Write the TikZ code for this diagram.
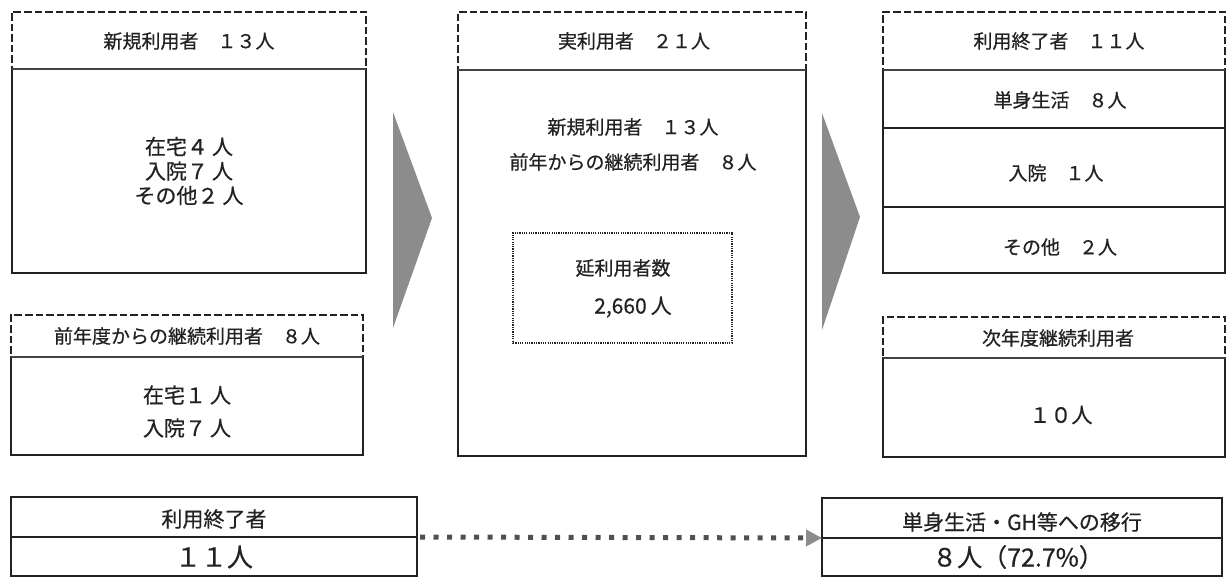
\documentclass[tikz,border=0pt]{standalone}
\usepackage{fontspec}
\setmainfont{Noto Sans CJK JP}[FakeBold=0.6]
\usetikzlibrary{arrows.meta}
\definecolor{ink}{HTML}{222222}
\definecolor{chev}{HTML}{8C8C8C}
\definecolor{dotc}{HTML}{505050}
\begin{document}
\begin{tikzpicture}[x=1pt,y=-1pt,
  box/.style={draw=ink, line width=1.2pt, inner sep=0pt, outer sep=0pt, anchor=north west},
  hdr/.style={box, line width=1.6pt, dash pattern=on 7.5pt off 3pt},
  sep/.style={draw=ink!85, line width=2.4pt},
  dotbox/.style={box, line width=1.5pt, dash pattern=on 1.2pt off 1.1pt},
  txt/.style={text=ink, font=\fontsize{19}{23}\selectfont, inner sep=0pt, align=center},
  bodytxt/.style={txt, font=\fontsize{21}{24.5}\selectfont},
  bigtxt/.style={txt, font=\fontsize{26}{30}\selectfont},
  midtxt/.style={txt, font=\fontsize{21}{25}\selectfont},
  chevron/.style={fill=chev, draw=none},
  dotarrow/.style={draw=dotc, line width=5pt, dash pattern=on 5pt off 8.5pt, shorten <=3pt,
    -{Triangle[length=16pt,width=16pt,color=chev]}}
]
\useasboundingbox (0,0) rectangle (1227,578);
\fill[white] (0,0) rectangle (1227,578);

% ---------- left column ----------
\node[box, minimum width=354pt, minimum height=204pt] (nb) at (12,69) {};
\node[hdr, minimum width=354pt, minimum height=57pt] (nh) at (12,12) {};
\draw[sep] (nh.south west) -- (nh.south east);
\node[txt] (nht) at (189,41) {新規利用者　１３人};
\node[bodytxt] (nbt) at (189,171)
  {在宅４\hspace{4pt}人\\入院７\hspace{4pt}人\\その他２\hspace{4pt}人};

\node[box, minimum width=352pt, minimum height=98pt] (cb) at (11,357) {};
\node[hdr, minimum width=352pt, minimum height=42pt] (ch) at (11,315) {};
\draw[sep] (ch.south west) -- (ch.south east);
\node[txt] (cht) at (187,336) {前年度からの継続利用者　８人};
\node[bodytxt] (cbt1) at (187,395) {在宅１\hspace{4pt}人};
\node[bodytxt] (cbt2) at (187,428) {入院７\hspace{4pt}人};

\node[box, minimum width=406pt, minimum height=40pt] (blh) at (11,497) {};
\node[box, minimum width=406pt, minimum height=39pt] (blv) at (11,537) {};
\node[midtxt] (blht) at (214,519) {利用終了者};
\node[bigtxt] (blvt) at (214,557) {１１人};

% ---------- middle column ----------
\node[box, minimum width=348pt, minimum height=386pt] (mb) at (458,70) {};
\node[hdr, minimum width=348pt, minimum height=58pt] (mh) at (458,12) {};
\draw[sep] (mh.south west) -- (mh.south east);
\node[txt] (mht) at (634,41) {実利用者　２１人};
\node[txt] (mbt1) at (633,127) {新規利用者　１３人};
\node[txt] (mbt2) at (633,162) {前年からの継続利用者　８人};
\node[dotbox, minimum width=219pt, minimum height=110pt] (db) at (513,233) {};
\node[txt] (dbt1) at (623,268) {延利用者数};
\node[txt, font=\fontsize{21}{24}\selectfont] (dbt2) at (633,307) {2,660\hspace{4pt}人};

% ---------- right column ----------
\node[box, minimum width=342pt, minimum height=58pt] (r1) at (883,70) {};
\node[box, minimum width=342pt, minimum height=79pt] (r2) at (883,128) {};
\node[box, minimum width=342pt, minimum height=66pt] (r3) at (883,207) {};
\node[hdr, minimum width=342pt, minimum height=58pt] (rh) at (883,12) {};
\draw[sep] (rh.south west) -- (rh.south east);
\node[txt] (rht) at (1059,41) {利用終了者　１１人};
\node[txt] (r1t) at (1060,100) {単身生活　８人};
\node[txt] (r2t) at (1056,173) {入院　１人};
\node[txt] (r3t) at (1060,247) {その他　２人};

\node[box, minimum width=342pt, minimum height=99pt] (nyb) at (883,358) {};
\node[hdr, minimum width=342pt, minimum height=41pt] (nyh) at (883,317) {};
\draw[sep] (nyh.south west) -- (nyh.south east);
\node[txt] (nyht) at (1058,338) {次年度継続利用者};
\node[bodytxt] (nybt) at (1061,415) {１０人};

\node[box, minimum width=400pt, minimum height=40pt] (brh) at (822,498) {};
\node[box, minimum width=400pt, minimum height=38pt] (brv) at (822,538) {};
\node[midtxt] (brht) at (1022,522) {単身生活・GH等への移行};
\node[bigtxt, font=\fontsize{25}{30}\selectfont] (brvt) at (1018,557) {８人（72.7\%）};

% ---------- arrows ----------
\fill[chevron] (393,112) -- (432,218) -- (393,328) -- cycle;
\fill[chevron] (822,113) -- (860,217) -- (822,330) -- cycle;
\draw[dotarrow] (blh.south east) -- (brh.south west);
\end{tikzpicture}
\end{document}
